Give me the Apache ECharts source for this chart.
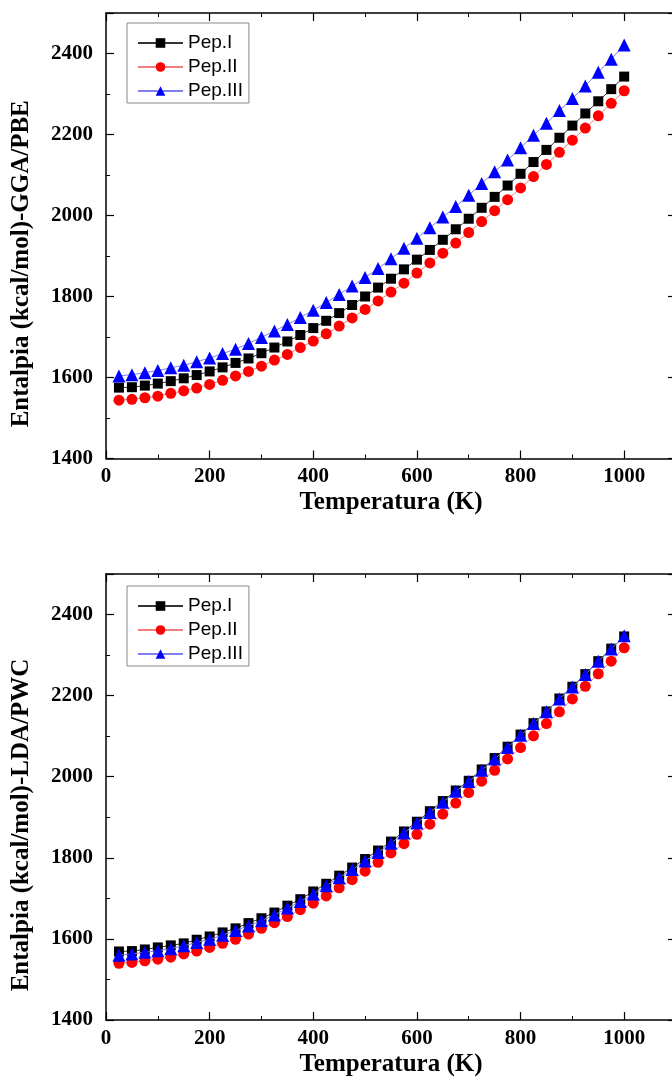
<!DOCTYPE html>
<html>
<head>
<meta charset="utf-8">
<script src="https://cdn.jsdelivr.net/npm/echarts@6/dist/echarts.min.js"></script>
<style>
html,body{margin:0;padding:0;background:#fff;overflow:hidden;}
#chart{width:672px;height:1082px;}
</style>
</head>
<body>
<div id="chart"></div>
<script>
const temperatures = [25,50,75,100,125,150,175,200,225,250,275,300,325,350,375,400,425,450,475,500,525,550,575,600,625,650,675,700,725,750,775,800,825,850,875,900,925,950,975,1000];
const seriesNames = ['Pep.I','Pep.II','Pep.III'];

// Top panel: GGA/PBE
const ggaPepI = [1575,1576,1580,1585,1591,1598,1606,1615,1625,1636,1647,1660,1674,1689,1705,1722,1740,1759,1779,1800,1822,1844,1867,1891,1915,1940,1966,1992,2019,2046,2074,2103,2132,2162,2192,2222,2252,2282,2312,2343];
const ggaPepII = [1544,1546,1550,1554,1561,1567,1574,1583,1593,1604,1615,1628,1643,1657,1674,1690,1708,1727,1747,1768,1789,1811,1833,1858,1883,1907,1932,1958,1985,2012,2039,2068,2096,2126,2156,2186,2216,2246,2277,2308];
const ggaPepIII = [1604,1607,1612,1617,1624,1630,1639,1648,1659,1670,1684,1699,1715,1731,1748,1766,1785,1805,1826,1847,1869,1893,1919,1944,1970,1996,2022,2050,2079,2108,2137,2167,2198,2228,2259,2289,2320,2354,2386,2421];

// Bottom panel: LDA/PWC
const ldaPepI = [1569,1570,1574,1579,1584,1589,1598,1606,1616,1626,1639,1651,1665,1682,1698,1717,1736,1756,1776,1797,1818,1840,1865,1889,1915,1940,1966,1990,2018,2046,2074,2104,2132,2161,2193,2222,2253,2285,2316,2346];
const ldaPepII = [1540,1542,1546,1550,1555,1563,1570,1579,1589,1599,1612,1626,1640,1655,1672,1688,1706,1726,1746,1767,1789,1812,1835,1858,1883,1908,1935,1961,1989,2016,2044,2072,2101,2131,2160,2192,2223,2254,2285,2318];
const ldaPepIII = [1560,1563,1567,1571,1576,1583,1591,1599,1609,1621,1632,1645,1659,1676,1692,1711,1731,1751,1771,1792,1813,1836,1861,1886,1912,1937,1964,1988,2016,2044,2072,2102,2131,2160,2192,2221,2252,2285,2315,2348];

const xTickLabels = [0,200,400,600,800,1000];
const yTickLabels = [1400,1600,1800,2000,2200,2400];
const xTitle = 'Temperatura (K)';
const yTitles = ['Entalpia (kcal/mol)-GGA/PBE','Entalpia (kcal/mol)-LDA/PWC'];

const serif = "'Liberation Serif','Times New Roman',serif";
const sans = "'Liberation Sans',Arial,sans-serif";

const styles = [
  {symbol:'rect', size:10, color:'#000000', line:'#333333'},
  {symbol:'circle', size:11, color:'#ff0000', line:'#f08080'},
  {symbol:'triangle', size:13, color:'#0000ff', line:'#8080f0'}
];

function pairs(ys){ return temperatures.map((t,i)=>[t, ys[i]]); }

const grids = [
  {left:106, top:13, width:570, height:445.5, outerBoundsMode:'none', containLabel:false},
  {left:106, top:574, width:570, height:446, outerBoundsMode:'none', containLabel:false}
];

const xAxes = [], yAxes = [], series = [], legends = [];
const panelData = [[ggaPepI, ggaPepII, ggaPepIII],[ldaPepI, ldaPepII, ldaPepIII]];
const legendTops = [23, 586];

grids.forEach((g, gi) => {
  const axLine = {show:true, onZero:false, lineStyle:{color:'#000', width:1.5}};
  const tick = {show:true, inside:true, length:8, lineStyle:{color:'#000', width:1.2}};
  const minor = {show:true, splitNumber:2, length:4, lineStyle:{color:'#000', width:1}};
  xAxes.push({
    type:'value', gridIndex:gi, position:'bottom', min:0, max:1100, interval:200,
    axisLine:axLine, axisTick:tick, minorTick:minor, splitLine:{show:false},
    axisLabel:{show:true, margin:8, color:'#000', fontFamily:serif, fontWeight:'bold', fontSize:21,
      formatter:v => xTickLabels.indexOf(v) >= 0 ? String(v) : ''},
    name:xTitle, nameLocation:'middle', nameGap:32,
    nameTextStyle:{color:'#000', fontFamily:serif, fontWeight:'bold', fontSize:25}
  });
  xAxes.push({
    type:'value', gridIndex:gi, position:'top', min:0, max:1100, interval:200,
    axisLine:axLine, axisTick:tick, minorTick:minor, splitLine:{show:false},
    axisLabel:{show:false}
  });
  yAxes.push({
    type:'value', gridIndex:gi, position:'left', min:1400, max:2500, interval:200,
    axisLine:axLine, axisTick:tick, minorTick:minor, splitLine:{show:false},
    axisLabel:{show:true, margin:13, color:'#000', fontFamily:serif, fontWeight:'bold', fontSize:21,
      formatter:v => yTickLabels.indexOf(v) >= 0 ? String(v) : ''},
    name:yTitles[gi], nameLocation:'middle', nameGap:72,
    nameTextStyle:{color:'#000', fontFamily:serif, fontWeight:'bold', fontSize:25, padding:[0,56,0,0]}
  });
  yAxes.push({
    type:'value', gridIndex:gi, position:'right', min:1400, max:2500, interval:200,
    axisLine:axLine, axisTick:tick, minorTick:minor, splitLine:{show:false},
    axisLabel:{show:false}
  });
  panelData[gi].forEach((ys, si) => {
    const s = styles[si];
    series.push({
      name:seriesNames[si], type:'line', xAxisIndex:gi*2, yAxisIndex:gi*2,
      data:pairs(ys), symbol:s.symbol, symbolSize:s.size, showSymbol:true,
      itemStyle:{color:s.color}, lineStyle:{color:s.line, width:1},
      animation:false, z:2+si
    });
  });
  legends.push({
    show:true, orient:'vertical', left:127, top:legendTops[gi],
    data:seriesNames, itemWidth:45, itemHeight:12, itemGap:0,
    padding:[8,6,0,10], borderColor:'#888', borderWidth:1,
    textStyle:{color:'#000', fontFamily:sans, fontSize:19, lineHeight:24},
    selectedMode:false
  });
});

const chart = echarts.init(document.getElementById('chart'), null, {renderer:'canvas'});
chart.setOption({
  backgroundColor:'#ffffff',
  animation:false,
  grid:grids,
  xAxis:xAxes,
  yAxis:yAxes,
  legend:legends,
  series:series
});
</script>
</body>
</html>
